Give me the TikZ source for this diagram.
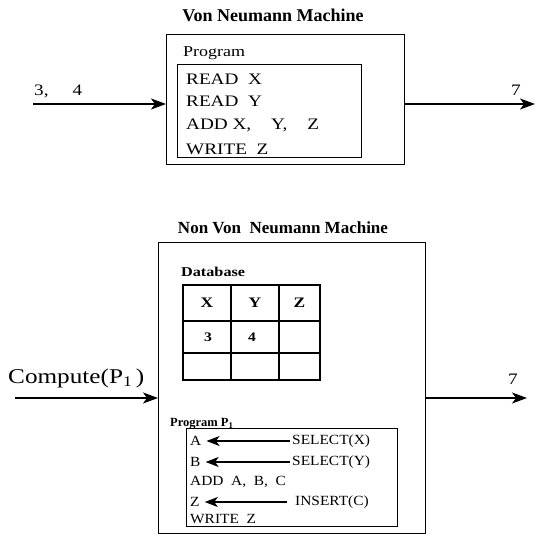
\documentclass[tikz,border=0pt]{standalone}
\usepackage{fontspec}
\setmainfont{Liberation Serif}
\newfontfamily\wideserif[FakeStretch=1.2]{Liberation Serif}
\newfontfamily\midserif[FakeStretch=1.1]{Liberation Serif}
\usetikzlibrary{positioning,arrows.meta}

\begin{document}
\begin{tikzpicture}[x=1pt,y=-1pt,
    box/.style={draw,line width=1.4pt,inner sep=0pt,anchor=north west},
    txt/.style={anchor=west,inner sep=0pt},
    head/.style={font=\fontsize{18}{20}\selectfont\bfseries},
    big/.style={font=\wideserif\fontsize{16}{18}\selectfont},
    small/.style={font=\midserif\fontsize{14}{16}\selectfont},
    flow/.style={line width=1.2pt,-{Stealth[length=15pt,width=11pt,inset=4pt]}},
    pick/.style={line width=1.1pt,-{Stealth[length=13pt,width=10pt,inset=3.5pt]}}]

    \useasboundingbox (0,0) rectangle (536,537);

    % von Neumann machine
    \node[head] (title1) at (273,15) {Von Neumann Machine};
    \node[box,minimum width=238pt,minimum height=130pt] (vn) at (166,34) {};
    \node[txt,font=\wideserif\fontsize{15}{18}\selectfont] (prog1) at (183,53) {Program};
    \node[box,minimum width=184pt,minimum height=93pt] (code1) at (177,64) {};
    \foreach \y/\n/\t in {79/r1/{READ\ \ X},101.5/r2/{READ\ \ Y},125/r3/{ADD X,\hspace{20pt}Y,\hspace{20pt}Z},149/r4/{WRITE\ \ Z}}{
        \node[txt,big] (\n) at (186,\y) {\t};
    }
    \coordinate (in1) at (33,104);
    \coordinate (out1) at (535,104);
    \node[txt,big] (arg1) at (34,91) {3,\ \ \ \ \ 4};
    \node[txt,big] (res1) at (511,90) {7};
    \draw[flow] (in1) -- (in1 -| vn.west);
    \draw[flow] (out1 -| vn.east) -- (out1);

    % non von Neumann machine
    \node[head,font=\fontsize{17}{20}\selectfont\bfseries] (title2) at (283,228) {Non Von\ \ Neumann Machine};
    \node[box,minimum width=267pt,minimum height=291pt] (nvn) at (158,242) {};
    \node[txt,font=\wideserif\fontsize{13.5}{15}\selectfont\bfseries] (db) at (181,272) {Database};
    \draw[line width=1.4pt] (183,285) rectangle (320,380);
    \foreach \x in {231,279}{
        \draw[line width=1.4pt] (\x,285) -- (\x,380);
    }
    \foreach \y in {321,353}{
        \draw[line width=1.4pt] (183,\y) -- (320,\y);
    }
    \foreach \x/\n/\t in {207/cx/X,255/cy/Y,299.5/cz/Z}{
        \node[font=\wideserif\fontsize{14.5}{16}\selectfont\bfseries] (\n) at (\x,303) {\t};
    }
    \node[font=\wideserif\fontsize{13}{15}\selectfont\bfseries] (v3) at (208,337) {3};
    \node[font=\wideserif\fontsize{13}{15}\selectfont\bfseries] (v4) at (252,337) {4};

    \node[txt,font=\fontsize{12.5}{14}\selectfont\bfseries] (prog2) at (170,424) {Program P\textsubscript{1}};
    \node[box,minimum width=211pt,minimum height=98pt] (code2) at (186,428) {};
    \node[txt,small] (a) at (190,441) {A};
    \node[txt,small] (b) at (190,462) {B};
    \node[txt,small] (add) at (190,482) {ADD\ \ A,\ \ B,\ \ C};
    \node[txt,small] (z) at (190,502) {Z};
    \node[txt,small] (wr) at (190,519) {WRITE\ \ Z};
    \node[txt,small] (selx) at (292,441) {SELECT(X)};
    \node[txt,small] (sely) at (292,462) {SELECT(Y)};
    \node[txt,small] (ins) at (295,502) {INSERT(C)};
    \draw[pick,shorten <=2pt,shorten >=5pt] (selx.west) -- (a.east);
    \draw[pick,shorten <=2pt,shorten >=5pt] (sely.west) -- (b.east);
    \draw[pick,shorten <=8pt,shorten >=5pt] (ins.west) -- (z.east);

    \coordinate (in2) at (15,398);
    \coordinate (out2) at (527,398);
    \node[txt,font=\wideserif\fontsize{21}{24}\selectfont] (call) at (8,378) {Compute(P\textsubscript{1}\,)};
    \node[txt,big] (res2) at (508,379) {7};
    \draw[flow] (in2) -- (in2 -| nvn.west);
    \draw[flow] (out2 -| nvn.east) -- (out2);
\end{tikzpicture}
\end{document}
